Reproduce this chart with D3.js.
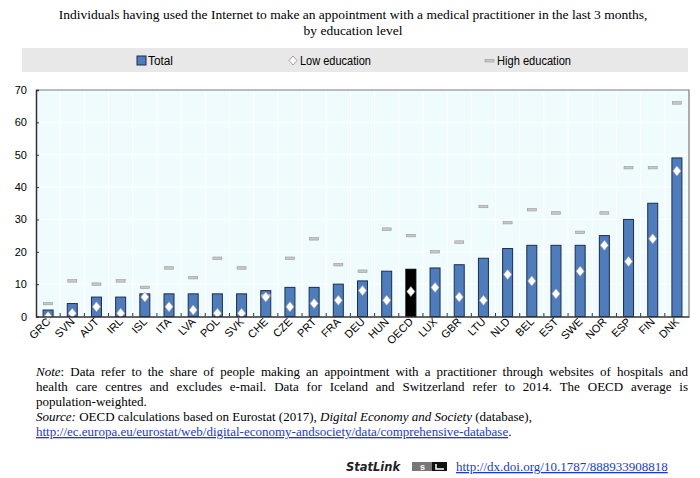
<!DOCTYPE html>
<html><head><meta charset="utf-8">
<script src="https://cdn.jsdelivr.net/npm/d3@7"></script>
<style>
html,body{margin:0;padding:0;background:#fff;}
svg{display:block;}
</style></head>
<body>
<svg id="c" width="700" height="478"></svg>
<script>
const categories = ["GRC","SVN","AUT","IRL","ISL","ITA","LVA","POL","SVK","CHE","CZE","PRT","FRA","DEU","HUN","OECD","LUX","GBR","LTU","NLD","BEL","EST","SWE","NOR","ESP","FIN","DNK"];
const totalValues = [2,4,6,6,7,7,7,7,7,8,9,9,10,11,14,14.6,15,16,18,21,22,22,22,25,30,35,49];
const lowValues = [0,1,3,1,6,3,2,1,1,6,3,4,5,8,5,7.7,9,6,5,13,11,7,14,22,17,24,45];
const highValues = [4,11,10,11,9,15,12,18,15,6.5,18,24,16,14,27,25,20,23,34,29,33,32,26,32,46,46,66];
const yTicks = [0,10,20,30,40,50,60,70];
const legendLabels = ["Total","Low education","High education"];
const titleLines = ["Individuals having used the Internet to make an appointment with a medical practitioner in the last 3 months,","by education level"];

const svg = d3.select("#c");
const serif = "'Liberation Serif','Times New Roman',serif";
const sans = "'Liberation Sans',Arial,sans-serif";

// Title
svg.append("g").selectAll("text").data(titleLines).join("text")
  .attr("x", 353).attr("y", (d,i)=>19 + i*16)
  .attr("text-anchor","middle").attr("font-family",serif).attr("font-size",13.5).attr("fill","#000")
  .text(d=>d);

// Legend
svg.append("rect").attr("x",22).attr("y",48).attr("width",666).attr("height",24).attr("fill","#e8e8e8");
const lg = svg.append("g").attr("font-family",sans).attr("font-size",12.5).attr("fill","#000");
lg.append("rect").attr("x",137).attr("y",56).attr("width",9).attr("height",9).attr("fill","#4f7cba").attr("stroke","#1d2d4d").attr("stroke-width",1);
lg.append("text").attr("x",148).attr("y",65).attr("textLength",25).attr("lengthAdjust","spacingAndGlyphs").text(legendLabels[0]);
lg.append("path").attr("d","M293,56 L297,60.5 L293,65 L289,60.5 Z").attr("fill","#fff").attr("stroke","#888").attr("stroke-width",0.8);
lg.append("text").attr("x",300).attr("y",65).attr("textLength",71).attr("lengthAdjust","spacingAndGlyphs").text(legendLabels[1]);
lg.append("rect").attr("x",485).attr("y",59.5).attr("width",9).attr("height",2.5).attr("fill","#c8c8c8").attr("stroke","#999").attr("stroke-width",0.6);
lg.append("text").attr("x",497).attr("y",65).attr("textLength",74).attr("lengthAdjust","spacingAndGlyphs").text(legendLabels[2]);

// Scales
const x = d3.scaleBand().domain(categories).range([36,689]).padding(0);
const y = d3.scaleLinear().domain([0,70]).range([316.5,90]);
const bw = x.bandwidth();

// Plot background
svg.append("rect").attr("x",36).attr("y",90).attr("width",653).attr("height",226.5).attr("fill","#f0fbfd");
// gridlines
svg.append("g").selectAll("line").data(yTicks.slice(1)).join("line")
  .attr("x1",36).attr("x2",689).attr("y1",d=>y(d)).attr("y2",d=>y(d)).attr("stroke","#fff").attr("stroke-width",1);
svg.append("g").selectAll("line").data(categories.slice(1)).join("line")
  .attr("x1",d=>x(d)).attr("x2",d=>x(d)).attr("y1",90).attr("y2",316.5).attr("stroke","#fff").attr("stroke-width",1);

// border (top/right)
svg.append("path").attr("d","M36,90 H689 V316.5").attr("fill","none").attr("stroke","#7a7a7a").attr("stroke-width",1.2);

// Bars
svg.append("g").selectAll("rect").data(categories).join("rect")
  .attr("x",d=>x(d)+bw/2-5).attr("width",10)
  .attr("y",(d,i)=>y(totalValues[i])).attr("height",(d,i)=>y(0)-y(totalValues[i]))
  .attr("fill",d=>d==="OECD"?"#000":"#4f7cba").attr("stroke",d=>d==="OECD"?"#000":"#1d2d4d").attr("stroke-width",1);

// High education markers
svg.append("g").selectAll("rect").data(categories).join("rect")
  .attr("x",d=>x(d)+bw/2-4.5).attr("width",9)
  .attr("y",(d,i)=>y(highValues[i])-1.25).attr("height",2.5)
  .attr("fill","#c8c8c8").attr("stroke","#999").attr("stroke-width",0.6);

// Low education diamonds
svg.append("g").selectAll("path").data(categories).join("path")
  .attr("d",(d,i)=>{const cx=x(d)+bw/2, cy=y(lowValues[i]); return `M${cx},${cy-5} L${cx+4},${cy} L${cx},${cy+5} L${cx-4},${cy} Z`;})
  .attr("fill","#fff").attr("stroke","#aaa").attr("stroke-width",0.6);

// Axes
const yAxis = d3.axisLeft(y).tickValues(yTicks).tickSize(-3).tickPadding(9).tickFormat(d3.format("d"));
const gy = svg.append("g").attr("transform","translate(36,0)").call(yAxis);
gy.select(".domain").attr("stroke","#333").attr("stroke-width",1.5);
gy.selectAll(".tick line").attr("stroke","#333");
gy.selectAll(".tick text").attr("font-family",sans).attr("font-size",11).attr("fill","#000");

const xAxis = d3.axisBottom(x).tickSize(0).tickFormat(d=>d);
const gx = svg.append("g").attr("transform","translate(0,316.5)").call(xAxis);
gx.select(".domain").attr("stroke","#333").attr("stroke-width",1.5);
gx.selectAll(".tick text").attr("font-family",sans).attr("font-size",11).attr("fill","#000")
  .attr("text-anchor","end").attr("dy",null).attr("y",0)
  .attr("transform","translate(3,6) rotate(-45)");
// category-boundary ticks (inward)
svg.append("g").selectAll("line").data(categories.slice(1)).join("line")
  .attr("x1",d=>x(d)).attr("x2",d=>x(d)).attr("y1",316.5).attr("y2",313).attr("stroke","#333").attr("stroke-width",1);

// Notes
const noteX = 36, noteW = 652;
const noteG = svg.append("g").attr("font-family",serif).attr("font-size",13).attr("fill","#000");
function justify(t){
  const len = t.node().getComputedTextLength();
  const str = t.text();
  const n = (str.match(/ /g)||[]).length;
  if(n>0) t.style("word-spacing", ((noteW-len)/n)+"px");
}
const l1 = noteG.append("text").attr("x",noteX).attr("y",376);
l1.append("tspan").attr("font-style","italic").text("Note");
l1.append("tspan").text(": Data refer to the share of people making an appointment with a practitioner through websites of hospitals and");
justify(l1);
const l2 = noteG.append("text").attr("x",noteX).attr("y",391)
  .text("health care centres and excludes e-mail. Data for Iceland and Switzerland refer to 2014. The OECD average is");
justify(l2);
noteG.append("text").attr("x",noteX).attr("y",406).text("population-weighted.");
const l4 = noteG.append("text").attr("x",noteX).attr("y",421);
l4.append("tspan").attr("font-style","italic").text("Source:");
l4.append("tspan").text(" OECD calculations based on Eurostat (2017), ");
l4.append("tspan").attr("font-style","italic").text("Digital Economy and Society");
l4.append("tspan").text(" (database),");
const l5 = noteG.append("text").attr("x",noteX).attr("y",436);
l5.append("tspan").attr("fill","#1a3cc8").attr("text-decoration","underline")
  .text("http://ec.europa.eu/eurostat/web/digital-economy-andsociety/data/comprehensive-database");
l5.append("tspan").text(".");

// StatLink
svg.append("text").attr("x",346).attr("y",471).attr("font-family","'DejaVu Sans',Verdana,sans-serif")
  .attr("font-size",11.5).attr("font-weight","bold").attr("font-style","italic").attr("fill","#222").text("StatLink");
const ic = svg.append("g");
ic.append("rect").attr("x",412).attr("y",462).attr("width",35).attr("height",9).attr("fill","#777");
ic.append("rect").attr("x",432).attr("y",462).attr("width",15).attr("height",9).attr("fill","#111");
ic.append("text").attr("x",420).attr("y",470).attr("font-family",sans).attr("font-size",9).attr("font-weight","bold").attr("fill","#fff").text("s");
ic.append("path").attr("d","M436,464 V469 H444").attr("stroke","#fff").attr("stroke-width",1.5).attr("fill","none");
svg.append("text").attr("x",456).attr("y",471).attr("font-family",serif).attr("font-size",13)
  .attr("fill","#1a3cc8").attr("text-decoration","underline").text("http://dx.doi.org/10.1787/888933908818");
</script>
</body></html>
